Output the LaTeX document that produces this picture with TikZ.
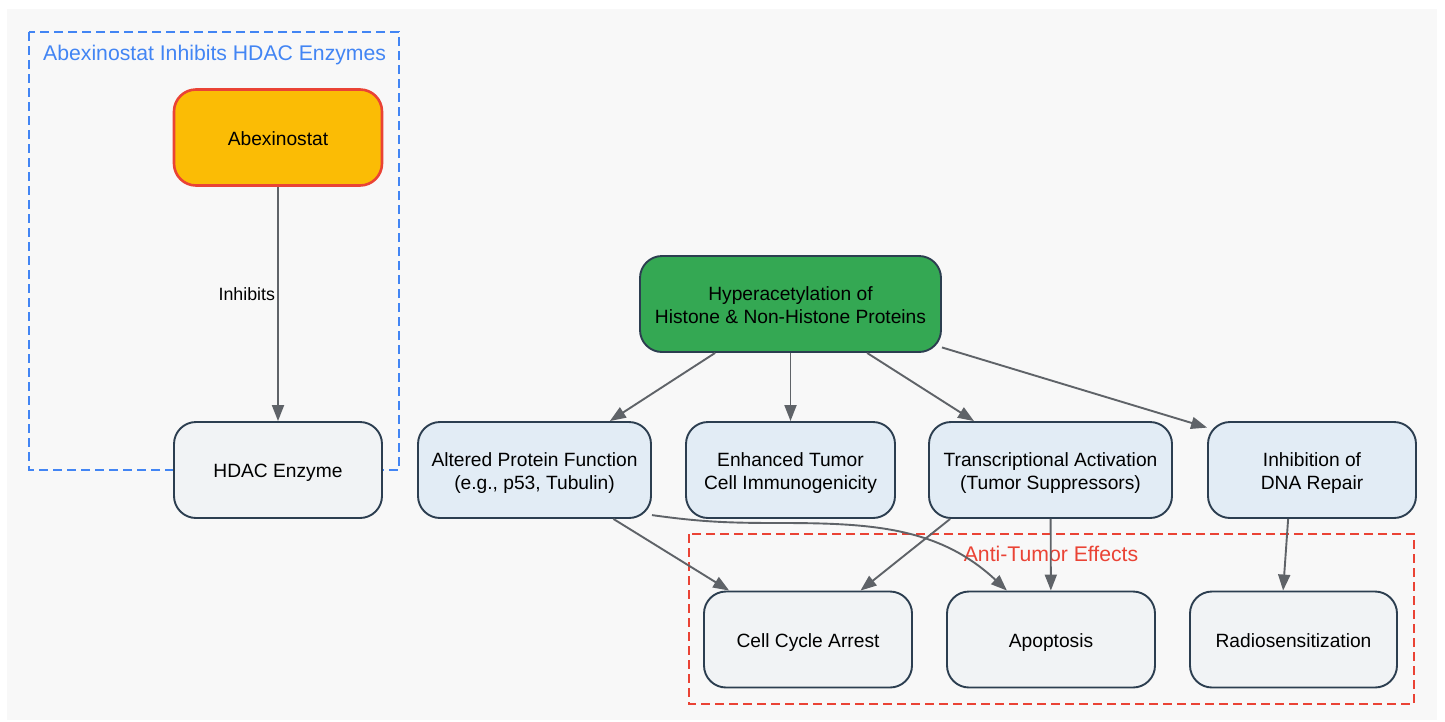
\documentclass[tikz,border=0pt]{standalone}
\usepackage{fontspec}
\setmainfont{Liberation Sans}
\usetikzlibrary{arrows.meta}

\definecolor{bggrey}{HTML}{F8F8F8}
\definecolor{gblue}{HTML}{4285F4}
\definecolor{gred}{HTML}{EA4335}
\definecolor{gamber}{HTML}{FBBC05}
\definecolor{ggreen}{HTML}{34A853}
\definecolor{paleblue}{HTML}{E2ECF5}
\definecolor{palegrey}{HTML}{F1F3F5}
\definecolor{slate}{HTML}{2C3E50}
\definecolor{wire}{HTML}{5F6368}

\begin{document}
\begin{tikzpicture}[auto, x=1pt, y=1pt,
		box/.style={draw=slate, line width=1.9pt, rounded corners=22pt, minimum width=208pt, minimum height=96pt, align=center, text=black, text height=15.75pt, text depth=0pt, font=\fontsize{19.2}{23}\selectfont},
		twoline/.style={text height=38.75pt},
		drug/.style={box, fill=gamber, draw=gred, line width=2.6pt},
		hyper/.style={box, twoline, fill=ggreen},
		mech/.style={box, twoline, fill=paleblue},
		effect/.style={box, fill=palegrey},
		cluster/.style={line width=1.7pt, dash pattern=on 9pt off 5pt},
		clusterlabel/.style={inner sep=0pt, font=\fontsize{21.2}{25}\selectfont},
		>={Triangle[length=16pt,width=12pt]}]
				% background and groups
				\fill[white] (0,0) rectangle (1445,-721);
				\useasboundingbox (0,0) rectangle (1445,-721);
				\fill[bggrey] (7,-9) rectangle (1437,-720);
				\draw[cluster, gblue] (29,-32) rectangle (399,-470);
				\node[clusterlabel, text=gblue, anchor=base west] (hdacgroup) at (43,-60) {Abexinostat Inhibits HDAC Enzymes};
				\draw[cluster, gred] (689,-534) rectangle (1414,-704);
				\node[clusterlabel, text=gred, anchor=base] (effectgroup) at (1051,-561.5) {Anti-Tumor Effects};
				% nodes
				\node[drug] (abex) at (278,-137.5) {Abexinostat};
				\node[effect] (hdac) at (278,-470) {HDAC Enzyme};
				\node[hyper, minimum width=301pt] (hyp) at (790.5,-304) {Hyperacetylation of\\Histone \& Non-Histone Proteins};
				\node[mech, minimum width=233pt] (alt) at (534.5,-470) {Altered Protein Function\\(e.g., p53, Tubulin)};
				\node[mech, minimum width=209pt] (enh) at (790.5,-470) {Enhanced Tumor\\Cell Immunogenicity};
				\node[mech, minimum width=243pt] (trans) at (1050.5,-470) {Transcriptional Activation\\(Tumor Suppressors)};
				\node[mech] (dna) at (1312,-470) {Inhibition of\\DNA Repair};
				\node[effect] (cca) at (808,-639.5) {Cell Cycle Arrest};
				\node[effect] (apo) at (1051,-639.5) {Apoptosis};
				\node[effect, minimum width=207pt] (radio) at (1293.5,-639.5) {Radiosensitization};
				% edges
				\begin{scope}[draw=wire, line width=1.9pt]
				\draw[->] (abex) to node[swap, pos=0.46, inner sep=2pt, text=black, font=\fontsize{17.8}{21}\selectfont] {Inhibits} (hdac);
				\draw[->] (hyp) to (alt);
				\draw[->] (hyp) to (enh);
				\draw[->] (hyp) to (trans);
				\draw[->] (hyp.-16) to (dna.158);
				\draw[->] (alt) to (cca);
				\draw[->] (alt.-21) to[out=-8, in=180] (780,-523) to[out=0, in=137] (apo.132);
				\draw[->] (trans.206) to (cca.43);
				\draw[->] (trans) to (apo);
				\draw[->] (dna.244) to (radio.102);
				\end{scope}
			\end{tikzpicture}
\end{document}
